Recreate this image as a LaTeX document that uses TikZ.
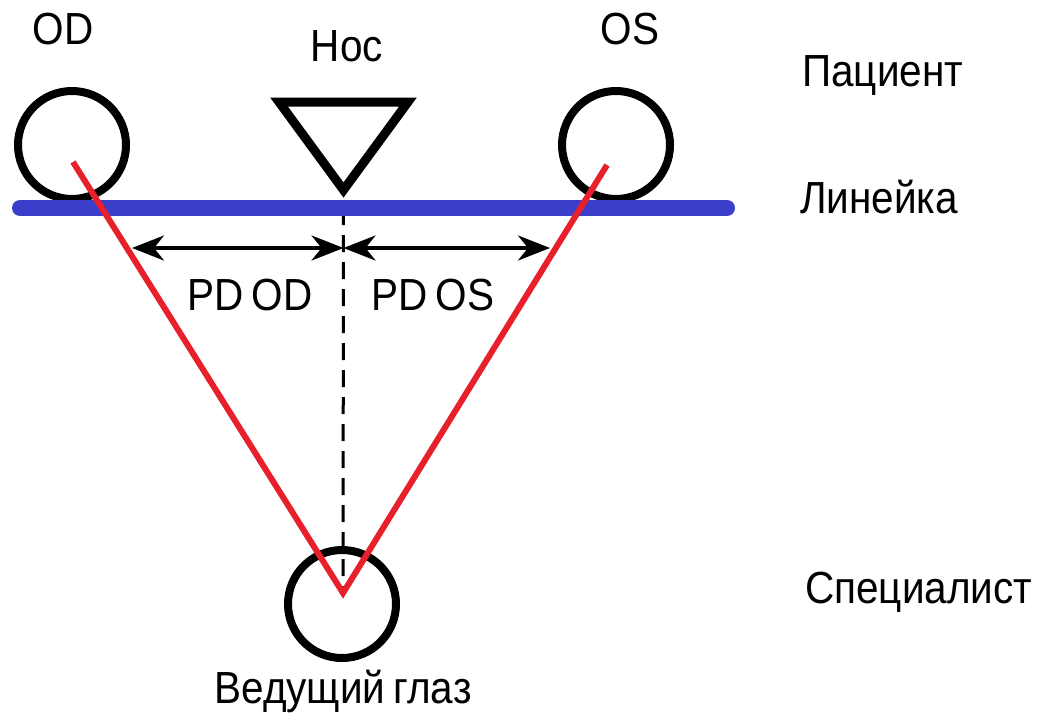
\documentclass[tikz,border=0pt]{standalone}
\usepackage{fontspec}
\setmainfont{Liberation Sans}[FakeStretch=0.9, WordSpace=0.7]
\usetikzlibrary{arrows.meta}
\definecolor{rulerblue}{RGB}{58,62,200}
\definecolor{sightred}{RGB}{232,32,44}

\begin{document}
\begin{tikzpicture}[
        x=1pt, y=-1pt,
        every node/.append style={font=\fontsize{45}{52}\selectfont, inner sep=0pt},
        eye/.style={draw, circle, line width=8pt, minimum size=108pt},
        sight/.style={sightred, line width=6pt},
        pd/.style={line width=3.5pt,
            {Stealth[length=32pt,width=25pt,inset=10pt]}-{Stealth[length=32pt,width=25pt,inset=10pt]}}
    ]
    \useasboundingbox (0,0) rectangle (1040,725);

    \node[eye] (od) at (72,145) {};
    \node[eye] (os) at (616,145) {};
    \node[eye] (lead) at (342,604) {};

    \coordinate (od pupil) at (73,162);
    \coordinate (os pupil) at (607,165);
    \coordinate (apex) at (343,593);
    \coordinate (nose) at (343.5,190);
    \coordinate (ruler mid) at (343.5,208);
    \coordinate (pd left) at (132,248);
    \coordinate (pd mid) at (343.5,248);
    \coordinate (pd right) at (550,248);

    % nose
    \draw[line width=9pt, line join=miter] (279,102) -- (408,102) -- (nose) -- cycle;

    % centre line and ruler
    \draw[line width=3pt, dash pattern=on 17pt off 10pt] (ruler mid) -- (apex);
    \draw[rulerblue, line width=16pt, line cap=round] (20,208) -- (727,208);

    \draw[sight] (od pupil) -- (apex) -- (os pupil);

    \draw[pd] (pd left) -- (pd mid);
    \draw[pd] (pd mid) -- (pd right);

    \node[anchor=base] (od label) at (63,45) {OD};
    \node[anchor=base] (nose label) at (347,61) {Нос};
    \node[anchor=base] (os label) at (630,45) {OS};
    \node[anchor=base] (pdod label) at (250,310) {PD OD};
    \node[anchor=base] (pdos label) at (433,310) {PD OS};
    \node[anchor=base] (lead label) at (343,703) {Ведущий глаз};

    \node[anchor=base west] (patient) at (802,86) {Пациент};
    \node[anchor=base west] (ruler) at (800,213) {Линейка};
    \node[anchor=base west] (expert) at (805,603) {Специалист};
\end{tikzpicture}
\end{document}
